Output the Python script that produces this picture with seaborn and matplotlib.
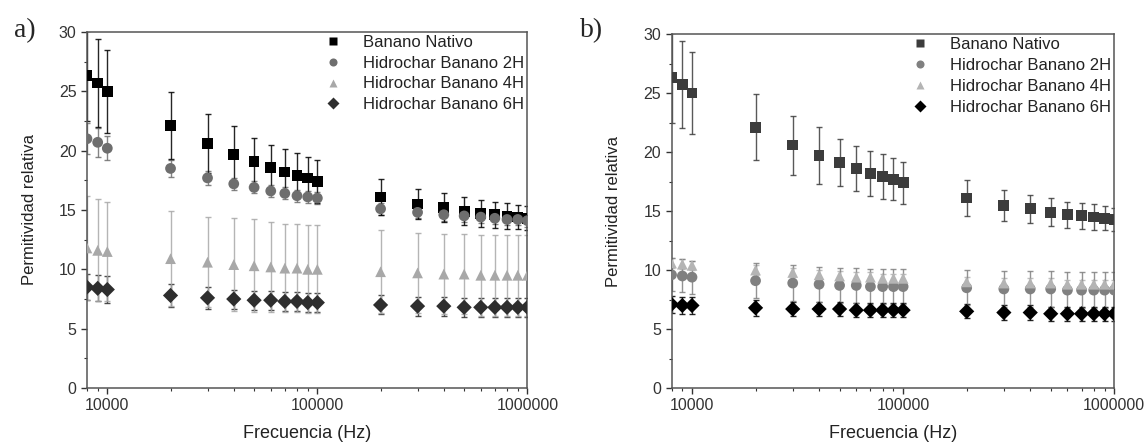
import seaborn as sns
import matplotlib.pyplot as plt
import matplotlib.ticker as mticker
import pandas as pd
import numpy as np

freq = [8000, 9000, 10000, 20000, 30000, 40000, 50000, 60000, 70000, 80000, 90000,
        100000, 200000, 300000, 400000, 500000, 600000, 700000, 800000, 900000, 1000000]
series = ["Banano Nativo", "Hidrochar Banano 2H", "Hidrochar Banano 4H", "Hidrochar Banano 6H"]

# panel a)
a_nativo = [26.3, 25.7, 25.0, 22.1, 20.6, 19.7, 19.1, 18.6, 18.2, 17.9, 17.7, 17.4,
            16.1, 15.5, 15.2, 14.9, 14.7, 14.6, 14.5, 14.4, 14.3]
a_nativo_err = [3.8, 3.7, 3.5, 2.8, 2.5, 2.4, 2.0, 1.9, 1.9, 1.9, 1.8, 1.8,
                1.5, 1.3, 1.2, 1.2, 1.1, 1.1, 1.1, 1.0, 1.0]
a_2h = [21.0, 20.7, 20.2, 18.5, 17.7, 17.2, 16.9, 16.6, 16.4, 16.2, 16.1, 16.0,
        15.1, 14.8, 14.6, 14.5, 14.4, 14.3, 14.2, 14.2, 14.1]
a_2h_err = [1.3, 1.2, 1.0, 0.7, 0.6, 0.5, 0.5, 0.5, 0.5, 0.5, 0.5, 0.5,
            0.5, 0.5, 0.5, 0.5, 0.5, 0.5, 0.5, 0.5, 0.5]
a_4h = [11.8, 11.6, 11.5, 10.9, 10.6, 10.4, 10.3, 10.2, 10.1, 10.1, 10.0, 10.0,
        9.8, 9.7, 9.6, 9.6, 9.5, 9.5, 9.5, 9.5, 9.5]
a_4h_err = [4.4, 4.3, 4.2, 4.0, 3.8, 3.9, 3.9, 3.8, 3.7, 3.7, 3.7, 3.7,
            3.5, 3.4, 3.4, 3.4, 3.4, 3.4, 3.4, 3.4, 3.4]
a_6h = [8.5, 8.4, 8.3, 7.8, 7.6, 7.5, 7.4, 7.4, 7.3, 7.3, 7.2, 7.2,
        7.0, 6.9, 6.9, 6.8, 6.8, 6.8, 6.8, 6.8, 6.8]
a_6h_err = [1.1, 1.1, 1.1, 1.0, 0.9, 0.8, 0.8, 0.8, 0.8, 0.8, 0.8, 0.8,
            0.8, 0.8, 0.8, 0.8, 0.8, 0.8, 0.8, 0.8, 0.8]

# panel b)
b_nativo = [26.3, 25.7, 25.0, 22.1, 20.6, 19.7, 19.1, 18.6, 18.2, 17.9, 17.7, 17.4,
            16.1, 15.5, 15.2, 14.9, 14.7, 14.6, 14.5, 14.4, 14.3]
b_nativo_err = [3.8, 3.7, 3.5, 2.8, 2.5, 2.4, 2.0, 1.9, 1.9, 1.9, 1.8, 1.8,
                1.5, 1.3, 1.2, 1.2, 1.1, 1.1, 1.1, 1.0, 1.0]
b_2h = [9.6, 9.5, 9.4, 9.1, 8.9, 8.8, 8.7, 8.7, 8.6, 8.6, 8.6, 8.6,
        8.5, 8.4, 8.4, 8.4, 8.3, 8.3, 8.3, 8.3, 8.3]
b_2h_err = [1.4, 1.4, 1.4, 1.5, 1.5, 1.5, 1.5, 1.5, 1.5, 1.5, 1.5, 1.5,
            1.5, 1.5, 1.5, 1.5, 1.5, 1.5, 1.5, 1.5, 1.5]
b_4h = [10.6, 10.5, 10.4, 10.0, 9.8, 9.6, 9.5, 9.4, 9.4, 9.3, 9.3, 9.3,
        9.0, 8.9, 8.9, 8.9, 8.8, 8.8, 8.8, 8.8, 8.8]
b_4h_err = [0.4, 0.4, 0.4, 0.4, 0.4, 0.4, 0.4, 0.4, 0.4, 0.4, 0.4, 0.4,
            0.4, 0.4, 0.4, 0.4, 0.4, 0.4, 0.4, 0.4, 0.4]
b_6h = [7.1, 7.0, 7.0, 6.8, 6.7, 6.7, 6.7, 6.6, 6.6, 6.6, 6.6, 6.6,
        6.5, 6.4, 6.4, 6.3, 6.3, 6.3, 6.3, 6.3, 6.3]
b_6h_err = [0.7, 0.7, 0.7, 0.7, 0.6, 0.6, 0.6, 0.6, 0.6, 0.6, 0.6, 0.6,
            0.6, 0.6, 0.6, 0.6, 0.6, 0.6, 0.6, 0.6, 0.6]

markers = {"Banano Nativo": "s", "Hidrochar Banano 2H": "o",
           "Hidrochar Banano 4H": "^", "Hidrochar Banano 6H": "D"}
colors_a = {"Banano Nativo": "#000000", "Hidrochar Banano 2H": "#6e6e6e",
            "Hidrochar Banano 4H": "#a8a8a8", "Hidrochar Banano 6H": "#2e2e2e"}
colors_b = {"Banano Nativo": "#3c3c3c", "Hidrochar Banano 2H": "#808080",
            "Hidrochar Banano 4H": "#b4b4b4", "Hidrochar Banano 6H": "#000000"}


def build(vals, errs):
    rows = []
    for s, v, e in zip(series, vals, errs):
        for f, y, ee in zip(freq, v, e):
            rows.append({"freq": f, "value": y, "err": ee, "serie": s})
    return pd.DataFrame(rows)


df_a = build([a_nativo, a_2h, a_4h, a_6h], [a_nativo_err, a_2h_err, a_4h_err, a_6h_err])
df_b = build([b_nativo, b_2h, b_4h, b_6h], [b_nativo_err, b_2h_err, b_4h_err, b_6h_err])

sns.set_style("ticks")
plt.rcParams["font.family"] = ["Liberation Sans", "DejaVu Sans"]

fig = plt.figure(figsize=(11.44, 4.43), dpi=100)
ax_a = fig.add_axes([0.076, 0.124, 0.385, 0.804])
ax_b = fig.add_axes([0.587, 0.124, 0.387, 0.799])


def draw(ax, df, colors):
    # error bars first, drawn in reverse so nativo stays on top
    for s in series[::-1]:
        d = df[df["serie"] == s]
        ax.errorbar(d["freq"], d["value"], yerr=d["err"], fmt="none",
                    ecolor=colors[s], elinewidth=1, capsize=2.5, capthick=1,
                    alpha=0.85, zorder=2)
    sns.scatterplot(data=df, x="freq", y="value", hue="serie", style="serie",
                    palette=colors, markers=markers, hue_order=series,
                    style_order=series, s=60, edgecolor="none", ax=ax,
                    zorder=3)
    ax.set_xscale("log")
    ax.set_xlim(8000, 1000000)
    ax.set_ylim(0, 30)
    ax.set_xticks([10000, 100000, 1000000])
    ax.xaxis.set_major_formatter(mticker.FuncFormatter(lambda v, p: f"{int(round(v))}"))
    ax.xaxis.set_minor_locator(mticker.LogLocator(base=10, subs=np.arange(2, 10)))
    ax.xaxis.set_minor_formatter(mticker.NullFormatter())
    ax.yaxis.set_major_locator(mticker.MultipleLocator(5))
    ax.yaxis.set_minor_locator(mticker.MultipleLocator(2.5))
    ax.tick_params(axis="both", which="major", labelsize=11.5, length=4,
                   color="#333333", labelcolor="#333333", width=1)
    ax.tick_params(axis="both", which="minor", length=2.5, color="#333333", width=0.8)
    for sp in ax.spines.values():
        sp.set_color("#555555")
        sp.set_linewidth(1.1)
    ax.set_xlabel("Frecuencia (Hz)", fontsize=13, color="#222222", labelpad=8)
    ax.set_ylabel("Permitividad relativa", fontsize=12, color="#222222", labelpad=16)
    leg = ax.legend(loc="upper right", bbox_to_anchor=(1.015, 1.02), frameon=False,
                    fontsize=12, handletextpad=0.8, labelspacing=0.35,
                    borderpad=0.1, markerscale=0.75)
    for t in leg.get_texts():
        t.set_color("#222222")


draw(ax_a, df_a, colors_a)
draw(ax_b, df_b, colors_b)

fig.text(0.012, 0.93, "a)", fontsize=20, family="Liberation Serif", va="center")
fig.text(0.507, 0.93, "b)", fontsize=20, family="Liberation Serif", va="center")

fig.savefig("out.png", dpi=100)
